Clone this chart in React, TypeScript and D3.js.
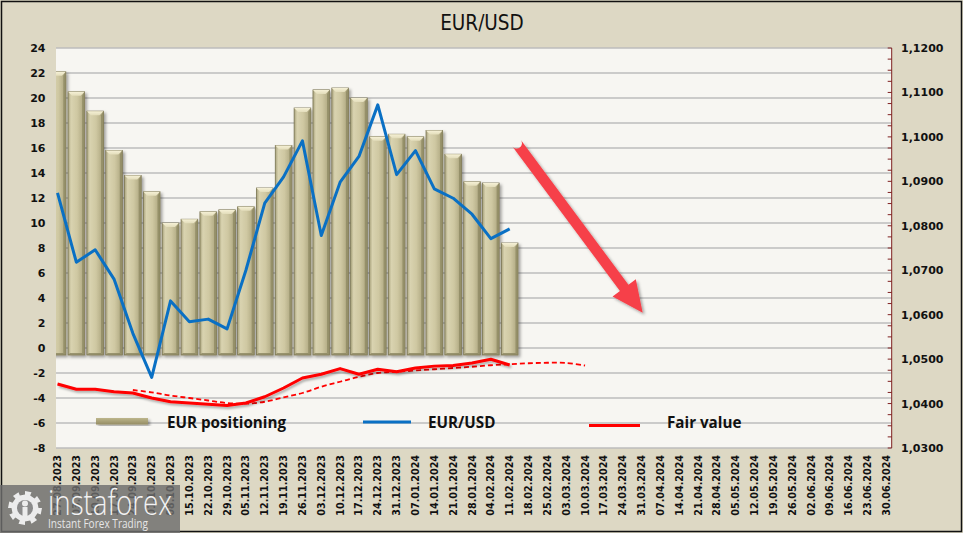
import React from "react";
import * as d3 from "d3";

const dates = [
  "27.08.2023","03.09.2023","10.09.2023","17.09.2023","24.09.2023","01.10.2023","08.10.2023",
  "15.10.2023","22.10.2023","29.10.2023","05.11.2023","12.11.2023","19.11.2023","26.11.2023",
  "03.12.2023","10.12.2023","17.12.2023","24.12.2023","31.12.2023","07.01.2024","14.01.2024",
  "21.01.2024","28.01.2024","04.02.2024","11.02.2024","18.02.2024","25.02.2024","03.03.2024",
  "10.03.2024","17.03.2024","24.03.2024","31.03.2024","07.04.2024","14.04.2024","21.04.2024",
  "28.04.2024","05.05.2024","12.05.2024","19.05.2024","26.05.2024","02.06.2024","09.06.2024",
  "16.06.2024","23.06.2024","30.06.2024",
];

const positioning = [
  22.1, 20.5, 18.95, 15.8, 13.8, 12.5, 10.0, 10.3, 10.9, 11.05, 11.3, 12.8, 16.2, 19.2,
  20.65, 20.8, 20.0, 16.9, 17.1, 16.9, 17.4, 15.5, 13.3, 13.2, 8.4,
];

const eurusd = [
  1.0874, 1.0718, 1.0746, 1.0680, 1.0558, 1.0459, 1.0631, 1.0584, 1.0590, 1.0568, 1.0700,
  1.0851, 1.0910, 1.0991, 1.0778, 1.0898, 1.0956, 1.1072, 1.0915, 1.0969, 1.0883, 1.0862,
  1.0826, 1.0771, 1.0793,
];

const fairValue = [
  -2.88, -3.3, -3.3, -3.5, -3.6, -4.0, -4.3, -4.4, -4.5, -4.6, -4.4, -3.9, -3.2, -2.4,
  -2.1, -1.65, -2.1, -1.7, -1.9, -1.6, -1.45, -1.4, -1.2, -0.9, -1.36,
];

// dashed fair value trend, starting at index 4
const trendStart = 4;
const fairTrend = [
  -3.36, -3.55, -3.8, -4.0, -4.2, -4.4, -4.45, -4.3, -3.95, -3.6, -3.1, -2.7, -2.3, -2.0,
  -1.9, -1.8, -1.7, -1.6, -1.5, -1.38, -1.3, -1.22, -1.18, -1.2, -1.4,
];

const leftTicks = [24, 22, 20, 18, 16, 14, 12, 10, 8, 6, 4, 2, 0, -2, -4, -6, -8];
const rightTicks = [1.12, 1.11, 1.1, 1.09, 1.08, 1.07, 1.06, 1.05, 1.04, 1.03];

const W = 963, H = 533;
const PL = 56, PR = 891.7, PT = 48, PB = 448;
const BAR_BASE = -0.56;

const x = d3.scalePoint<string>().domain(dates).range([57.5, 886.5]);
const step = x.step();
const xi = (i: number) => 57.5 + i * step;
const yL = d3.scaleLinear().domain([-8, 24]).range([PB, PT]);
const yR = d3.scaleLinear().domain([1.03, 1.12]).range([PB, PT]);

const tickFont = "'DejaVu Sans', Verdana, sans-serif";
const legendFont = "'Open Sans', 'DejaVu Sans', sans-serif";

function Bar({ cx, v }: { cx: number; v: number }) {
  const bw = 16.6;
  const x0 = cx - bw / 2;
  const y0 = yL(v);
  const y1 = yL(BAR_BASE);
  const cap = 4;
  return (
    <g>
      <rect x={x0} y={y0} width={bw} height={y1 - y0} fill="url(#barGrad)" stroke="#7a7452" strokeWidth={0.8} />
      <path
        d={`M${x0},${y0} L${x0 + bw},${y0} L${x0 + bw - cap},${y0 + cap} L${x0 + cap},${y0 + cap} Z`}
        fill="url(#capGrad)"
      />
      <path d={`M${x0 + bw},${y0} L${x0 + bw},${y1} L${x0 + bw - 2.5},${y1 - 2} L${x0 + bw - 2.5},${y0 + cap} Z`} fill="#8f8963" opacity={0.8} />
      <path d={`M${x0},${y1} L${x0 + bw},${y1} L${x0 + bw - 2.5},${y1 - 2} L${x0 + 2},${y1 - 2} Z`} fill="#8a845f" opacity={0.8} />
    </g>
  );
}

export default function App() {
  const blueLine = d3
    .line<number>()
    .x((_, i) => xi(i))
    .y((d) => yR(d))(eurusd) as string;
  const redLine = d3
    .line<number>()
    .x((_, i) => xi(i))
    .y((d) => yL(d))(fairValue) as string;
  const dashLine = d3
    .line<number>()
    .x((_, i) => xi(i + trendStart))
    .y((d) => yL(d))
    .curve(d3.curveCatmullRom)(fairTrend) as string;

  // arrow annotation in data coordinates
  const S = [xi(24.37), yL(16.38)];
  const T = [xi(31.06), yL(2.82)];
  const dx = T[0] - S[0], dy = T[1] - S[1];
  const len = Math.hypot(dx, dy);
  const u = [dx / len, dy / len];
  const n = [-u[1], u[0]];
  const headL = 31, headW = 14.5, shaftW = 5.3;
  const B = [T[0] - headL * u[0], T[1] - headL * u[1]];
  const arrowPath = [
    `M${S[0] + n[0] * shaftW},${S[1] + n[1] * shaftW}`,
    `L${B[0] + n[0] * shaftW},${B[1] + n[1] * shaftW}`,
    `L${B[0] + n[0] * headW},${B[1] + n[1] * headW}`,
    `L${T[0]},${T[1]}`,
    `L${B[0] - n[0] * headW},${B[1] - n[1] * headW}`,
    `L${B[0] - n[0] * shaftW},${B[1] - n[1] * shaftW}`,
    `L${S[0] - n[0] * shaftW},${S[1] - n[1] * shaftW}`,
    `A${shaftW},${shaftW} 0 0 1 ${S[0] + n[0] * shaftW},${S[1] + n[1] * shaftW}`,
    "Z",
  ].join(" ");

  const minorTicks = d3.range(0, 37).map((k) => 1.03 + k * 0.0025);

  // gear path for watermark
  const gear = (() => {
    const cx = 25, cy = 508, ro = 17, ri = 13.5, teeth = 8;
    let p = "";
    for (let k = 0; k < teeth * 2; k++) {
      const a0 = (k / (teeth * 2)) * Math.PI * 2;
      const a1 = ((k + 1) / (teeth * 2)) * Math.PI * 2;
      const r = k % 2 === 0 ? ro : ri;
      p += `${k === 0 ? "M" : "L"}${cx + r * Math.cos(a0)},${cy + r * Math.sin(a0)} L${cx + r * Math.cos(a1)},${cy + r * Math.sin(a1)} `;
    }
    return p + "Z";
  })();

  return (
    <svg width={W} height={H} style={{ position: "fixed", left: 0, top: 0, display: "block" }}>
      <defs>
        <linearGradient id="barGrad" x1="0" x2="1" y1="0" y2="0">
          <stop offset="0" stopColor="#a9a37d" />
          <stop offset="0.18" stopColor="#d9d3b0" />
          <stop offset="0.55" stopColor="#cfc8a2" />
          <stop offset="1" stopColor="#aaa37c" />
        </linearGradient>
        <linearGradient id="capGrad" x1="0" x2="0" y1="0" y2="1">
          <stop offset="0" stopColor="#f6f1d6" />
          <stop offset="1" stopColor="#e3ddbb" />
        </linearGradient>
        <linearGradient id="legGrad" x1="0" x2="0" y1="0" y2="1">
          <stop offset="0" stopColor="#bdb68c" />
          <stop offset="1" stopColor="#948c63" />
        </linearGradient>
        <filter id="shadow" x="-20%" y="-20%" width="140%" height="140%">
          <feDropShadow dx="2" dy="2" stdDeviation="1.6" floodColor="#000" floodOpacity="0.35" />
        </filter>
        <filter id="lshadow" x="-10%" y="-50%" width="120%" height="200%">
          <feDropShadow dx="1.5" dy="2" stdDeviation="1.2" floodColor="#000" floodOpacity="0.3" />
        </filter>
        <clipPath id="plotClip">
          <rect x={PL} y={PT - 2} width={PR - PL} height={PB - PT + 4} />
        </clipPath>
      </defs>

      {/* background */}
      <rect x={0} y={0} width={W} height={H} fill="#ddd8c4" />
      <rect x={1.5} y={1.5} width={W - 3} height={H - 3} fill="none" stroke="#111" strokeWidth={1.5} />

      {/* title */}
      <text x={482} y={30} textAnchor="middle" fontFamily="'DejaVu Sans Condensed', 'DejaVu Sans', sans-serif" fontSize={20.5} fill="#111">
        EUR/USD
      </text>

      {/* plot area */}
      <rect x={PL} y={PT} width={PR - PL} height={PB - PT} fill="#f7f6f2" />
      {leftTicks.map((t) => (
        <line key={t} x1={PL} x2={PR} y1={yL(t)} y2={yL(t)} stroke="#bdbdbd" strokeWidth={1.3} />
      ))}

      {/* bars */}
      <g clipPath="url(#plotClip)" filter="url(#shadow)">
        {positioning.map((v, i) => (
          <Bar key={i} cx={xi(i)} v={v} />
        ))}
      </g>

      {/* lines */}
      <g clipPath="url(#plotClip)">
        <path d={dashLine} fill="none" stroke="#ff0000" strokeWidth={1.8} strokeDasharray="5,3" />
        <path d={redLine} fill="none" stroke="#ff0000" strokeWidth={3} strokeLinejoin="round" filter="url(#lshadow)" />
        <path d={blueLine} fill="none" stroke="#0a70c4" strokeWidth={3} strokeLinejoin="round" />
      </g>

      {/* arrow */}
      <path d={arrowPath} fill="#f6414a" filter="url(#shadow)" />

      {/* legend */}
      <rect x={96} y={418} width={52} height={6.5} fill="url(#legGrad)" filter="url(#shadow)" />
      <text x={167} y={428} fontFamily={legendFont} fontWeight={700} fontSize={15.2} fill="#111">EUR positioning</text>
      <line x1={363} x2={411} y1={422} y2={422} stroke="#0a70c4" strokeWidth={3} />
      <text x={428} y={428} fontFamily={legendFont} fontWeight={700} fontSize={15.2} fill="#111">EUR/USD</text>
      <line x1={589} x2={640} y1={425.5} y2={425.5} stroke="#ff0000" strokeWidth={3} />
      <text x={667} y={428} fontFamily={legendFont} fontWeight={700} fontSize={15.2} fill="#111">Fair value</text>

      {/* right axis */}
      <line x1={PR} x2={PR} y1={PT} y2={PB} stroke="#7f2020" strokeWidth={1} />
      {minorTicks.map((t, k) => (
        <line key={k} x1={PR - 4} x2={PR} y1={yR(t)} y2={yR(t)} stroke="#7f2020" strokeWidth={1} />
      ))}
      {rightTicks.map((t) => (
        <text key={t} x={901} y={yR(t) + 4} fontFamily={tickFont} fontWeight={700} fontSize={11} fill="#111">
          {d3.format(".4f")(t).replace(".", ",")}
        </text>
      ))}

      {/* left axis labels */}
      {leftTicks.map((t) => (
        <text key={t} x={45.5} y={yL(t) + 4} textAnchor="end" fontFamily={tickFont} fontWeight={700} fontSize={11} fill="#111">
          {t}
        </text>
      ))}

      {/* x labels */}
      {dates.map((d) => (
        <text
          key={d}
          transform={`translate(${(x(d) as number) + 3.5},455) rotate(-90)`}
          textAnchor="end"
          fontFamily={tickFont}
          fontWeight={700}
          fontSize={9.6}
          fill="#111"
        >
          {d}
        </text>
      ))}

      {/* watermark */}
      <g>
        <rect x={0} y={485} width={180} height={48} fill="#6e6e6e" opacity={0.82} />
        <path d={gear} fill="#ececec" />
        <circle cx={25} cy={508} r={8} fill="#8a8a8a" />
        <circle cx={25} cy={503.5} r={3} fill="#ececec" />
        <rect x={22.5} y={507} width={5} height={10} fill="#ececec" />
        <text x={48} y={515} fontFamily="'Open Sans', sans-serif" fontWeight={300} fontSize={34} fill="#f2f2f2" textLength={124} lengthAdjust="spacingAndGlyphs">
          instaforex
        </text>
        <text x={48} y={528} fontFamily="'Open Sans', sans-serif" fontSize={12} fill="#e6e6e6" textLength={100} lengthAdjust="spacingAndGlyphs">
          Instant Forex Trading
        </text>
      </g>
    </svg>
  );
}
